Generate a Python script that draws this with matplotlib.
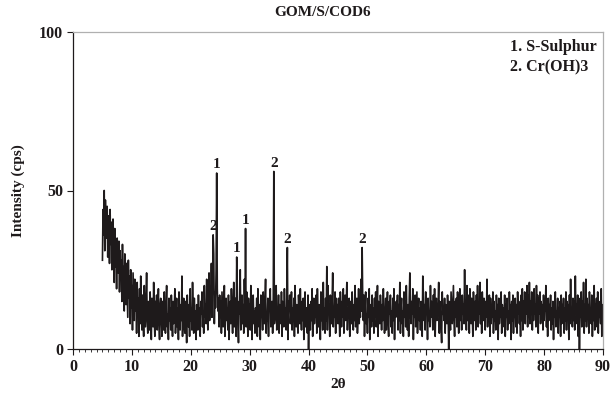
import numpy as np
import matplotlib
matplotlib.use("Agg")
import matplotlib.pyplot as plt
from matplotlib.ticker import MultipleLocator

# ---- data (2theta step 0.1) ----
two_theta_start = 5.0
two_theta_step = 0.1

counts_05_15 = [28, 44, 36, 50, 31, 47, 40, 35, 45, 29, 42, 38, 27, 44, 33, 40, 25, 37, 41, 30,
                21, 38, 26, 33, 19, 35, 29, 24, 34, 18, 31, 23, 28, 15, 33, 21, 26, 12, 30, 20,
                14, 27, 19, 10, 28, 16, 23, 8, 25, 13, 20, 6, 24, 17, 9, 22, 12, 18, 5, 21,
                11, 16, 4, 19, 8, 23, 13, 6, 17, 10, 4, 20, 14, 7, 16, 24, 9, 5, 15, 12,
                6, 18, 10, 3, 16, 13, 7, 21, 9, 4, 15, 11, 17, 6, 12, 19, 8, 3, 14, 16]
counts_15_25 = [9, 4, 15, 12, 6, 18, 10, 5, 14, 20, 7, 11, 3, 16, 9, 13, 6, 17, 11, 4,
                15, 8, 12, 19, 5, 10, 16, 7, 13, 3, 18, 11, 6, 14, 9, 23, 4, 12, 16, 8,
                5, 15, 10, 2, 17, 12, 7, 14, 4, 19, 9, 13, 6, 21, 11, 5, 16, 8, 12, 3,
                14, 10, 6, 17, 9, 13, 4, 15, 11, 18, 7, 12, 5, 20, 10, 14, 8, 22, 13, 6,
                11, 24, 9, 17, 14, 27, 10, 20, 15, 30, 8, 18, 13, 25, 9, 19, 12, 16, 7, 17]
counts_25_35 = [10, 15, 5, 18, 12, 7, 14, 20, 4, 11, 16, 9, 13, 6, 17, 3, 12, 15, 8, 19,
                11, 5, 14, 21, 7, 10, 16, 4, 13, 18, 9, 2, 15, 11, 25, 6, 12, 17, 8, 14,
                5, 22, 10, 13, 7, 18, 12, 4, 16, 9, 14, 6, 20, 11, 3, 15, 17, 8, 12, 5,
                13, 9, 16, 4, 19, 11, 7, 14, 3, 17, 10, 13, 6, 18, 12, 8, 15, 22, 5, 11,
                9, 16, 4, 14, 12, 19, 7, 11, 15, 5, 13, 18, 8, 10, 16, 20, 6, 12, 9, 17]
counts_35_45 = [5, 14, 11, 8, 18, 4, 15, 12, 7, 19, 10, 13, 6, 16, 9, 3, 15, 12, 17, 8,
                11, 18, 6, 13, 9, 16, 4, 20, 12, 7, 14, 10, 5, 17, 13, 8, 19, 11, 6, 15,
                9, 16, 3, 12, 18, 7, 13, 10, 5, 17, 0, 14, 11, 6, 15, 9, 19, 4, 12, 16,
                8, 13, 10, 17, 5, 19, 11, 7, 14, 12, 3, 18, 9, 15, 6, 21, 10, 13, 5, 16,
                9, 26, 6, 20, 11, 14, 4, 17, 12, 8, 15, 24, 7, 13, 10, 18, 5, 16, 11, 14]
counts_45_55 = [8, 16, 11, 4, 18, 13, 7, 15, 10, 19, 5, 12, 17, 9, 14, 21, 6, 13, 10, 16,
                4, 15, 11, 8, 18, 12, 6, 14, 9, 20, 7, 13, 16, 5, 11, 19, 8, 14, 10, 22,
                12, 6, 15, 9, 17, 4, 13, 18, 8, 11, 5, 16, 10, 19, 3, 14, 12, 7, 17, 9,
                13, 5, 16, 10, 18, 7, 12, 20, 4, 15, 11, 8, 17, 13, 6, 14, 9, 19, 11, 5,
                10, 16, 6, 13, 18, 8, 4, 15, 11, 17, 7, 12, 5, 16, 9, 19, 3, 14, 10, 15]
counts_55_65 = [11, 17, 6, 14, 9, 21, 5, 13, 16, 8, 12, 4, 18, 10, 15, 7, 20, 11, 6, 14,
                4, 16, 24, 12, 8, 15, 11, 19, 3, 14, 10, 17, 7, 13, 18, 5, 12, 16, 9, 13,
                6, 15, 11, 4, 23, 17, 9, 14, 6, 18, 11, 13, 3, 16, 9, 12, 7, 20, 10, 15,
                11, 6, 17, 8, 19, 4, 13, 16, 9, 12, 14, 21, 5, 15, 10, 7, 2, 18, 11, 13,
                9, 16, 5, 14, 11, 8, 17, 12, 0, 15, 10, 6, 18, 13, 8, 14, 20, 9, 4, 15]
counts_65_75 = [10, 16, 7, 18, 12, 5, 15, 19, 9, 13, 6, 17, 11, 14, 8, 25, 10, 15, 6, 20,
                9, 17, 12, 5, 19, 14, 8, 16, 11, 4, 18, 13, 9, 15, 6, 17, 10, 20, 7, 14,
                11, 21, 8, 15, 5, 18, 12, 9, 16, 13, 6, 15, 10, 22, 7, 14, 11, 17, 4, 16,
                8, 13, 10, 18, 5, 15, 9, 12, 6, 17, 11, 14, 3, 16, 8, 12, 10, 18, 5, 14,
                9, 13, 7, 17, 4, 14, 10, 16, 6, 12, 8, 18, 11, 14, 3, 15, 9, 17, 5, 13]
counts_75_85 = [10, 16, 7, 14, 5, 18, 11, 15, 8, 13, 4, 17, 9, 19, 6, 15, 12, 18, 8, 16,
                11, 20, 7, 17, 10, 21, 8, 15, 12, 18, 6, 16, 9, 19, 11, 14, 7, 20, 10, 17,
                5, 16, 11, 18, 8, 15, 10, 14, 6, 17, 9, 13, 12, 20, 7, 15, 4, 16, 9, 14,
                11, 17, 6, 13, 8, 15, 3, 14, 10, 18, 7, 12, 9, 16, 5, 13, 11, 15, 4, 17,
                8, 14, 10, 16, 5, 13, 9, 18, 6, 15, 11, 14, 3, 17, 8, 22, 10, 13, 7, 16]
counts_85_90 = [9, 15, 6, 23, 11, 14, 8, 17, 4, 16, 0, 13, 10, 18, 7, 15, 11, 21, 5, 14,
                9, 22, 7, 16, 11, 14, 5, 18, 10, 13, 8, 17, 4, 15, 9, 20, 6, 14, 11, 16,
                7, 18, 5, 15, 10, 13, 8, 19, 4, 14, 9]

peak_positions = [23.8, 24.4, 27.8, 29.3, 34.1, 36.4, 49.1]
peak_heights = [36, 55.5, 29, 38, 56, 32, 32]
peak_labels = ["2", "1", "1", "1", "2", "2", "2"]

title = "GOM/S/COD6"
legend_lines = ["1. S-Sulphur", "2. Cr(OH)3"]
x_label = "2θ"
y_label = "Intensity (cps)"

# ---- build series ----
counts = np.array(counts_05_15 + counts_15_25 + counts_25_35 + counts_35_45 + counts_45_55
                  + counts_55_65 + counts_65_75 + counts_75_85 + counts_85_90, dtype=float)
two_theta = two_theta_start + two_theta_step * np.arange(len(counts))
for p, h in zip(peak_positions, peak_heights):
    i = int(np.argmin(np.abs(two_theta - p)))
    counts[i] = h

plt.rcParams['font.family'] = ['Liberation Serif', 'DejaVu Serif']
plt.rcParams['font.weight'] = 'bold'

W, H = 613, 397
fig = plt.figure(figsize=(W / 100, H / 100), dpi=100)
ax = fig.add_axes([73 / W, 1 - 349 / H, (603 - 73) / W, (349 - 32) / H])

line_color = "#1e1a1b"
ax.plot(two_theta, counts, color=line_color, lw=1.2)

for p, h, lab in zip(peak_positions, peak_heights, peak_labels):
    ax.text(p, h + 0.6, lab, ha="center", va="bottom", fontsize=11, fontweight="bold",
            color=line_color)

ax.set_xlim(0, 90)
ax.set_ylim(0, 100)
ax.xaxis.set_major_locator(MultipleLocator(10))
ax.xaxis.set_minor_locator(MultipleLocator(1))
ax.yaxis.set_major_locator(MultipleLocator(50))
ax.tick_params(axis="both", which="major", direction="out", length=4, width=0.8,
               labelsize=11.5, colors=line_color, pad=3)
ax.tick_params(axis="x", which="minor", direction="out", length=2, width=0.6, colors=line_color)
for lbl in ax.get_xticklabels() + ax.get_yticklabels():
    lbl.set_fontweight("bold")

for s in ["left", "bottom"]:
    ax.spines[s].set_color(line_color)
    ax.spines[s].set_linewidth(0.9)
for s in ["top", "right"]:
    ax.spines[s].set_color("#b0b0b0")
    ax.spines[s].set_linewidth(0.9)

ax.set_xlabel(x_label, fontsize=11, fontweight="bold", color=line_color, labelpad=2)
ax.set_ylabel(y_label, fontsize=11, fontweight="bold", color=line_color, labelpad=10)

fig.text(323 / W, 1 - 12 / H, title, ha="center", va="center", fontsize=11,
         fontweight="bold", color=line_color)
fig.text(510 / W, 1 - 47 / H, legend_lines[0], ha="left", va="center", fontsize=11.5,
         fontweight="bold", color=line_color)
fig.text(510 / W, 1 - 67 / H, legend_lines[1], ha="left", va="center", fontsize=11.5,
         fontweight="bold", color=line_color)

fig.savefig("out.png", dpi=100)
